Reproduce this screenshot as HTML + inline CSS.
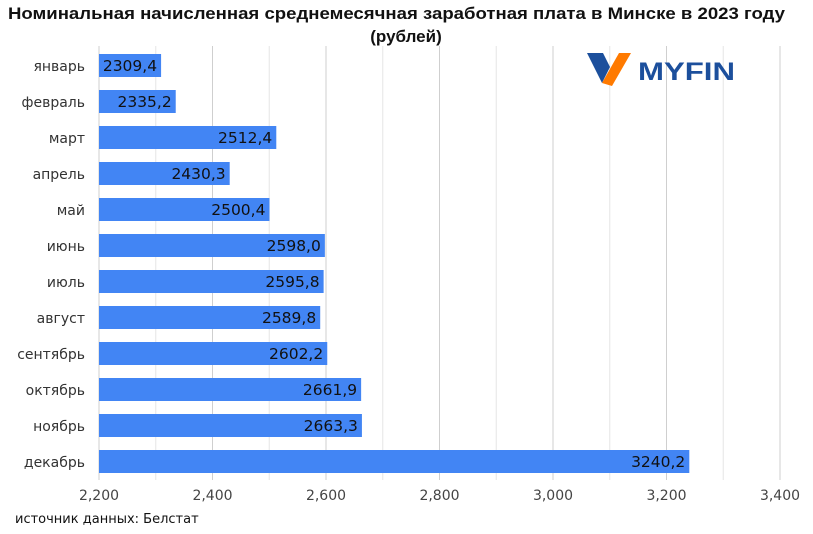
<!DOCTYPE html>
<html><head><meta charset="utf-8"><style>
body{margin:0;background:#fff;width:813px;height:529px;overflow:hidden}
text{font-family:"DejaVu Sans",sans-serif}
</style></head><body>
<svg width="813" height="529" xmlns="http://www.w3.org/2000/svg">
<text x="8" y="19" textLength="777" lengthAdjust="spacingAndGlyphs" font-size="17" font-weight="bold" fill="#111" style="font-family:'Liberation Sans',sans-serif">Номинальная начисленная среднемесячная заработная плата в Минске в 2023 году</text>
<text x="406" y="42" text-anchor="middle" font-size="17" font-weight="bold" fill="#111" style="font-family:'Liberation Sans',sans-serif">(рублей)</text>
<g id="grid"></g>
<g id="bars"></g>
<g transform="translate(587,53)">
<polygon points="0,0 16,0 23,14 15,30" fill="#1c4f9c"/>
<polygon points="15,30 32,0 44,0 25,33" fill="#ff7a00"/>
</g>
<text x="638" y="80" font-size="25" font-weight="bold" fill="#1c4f9c" textLength="97" lengthAdjust="spacingAndGlyphs" style="font-family:'Liberation Sans',sans-serif">MYFIN</text>
<text x="15" y="523" font-size="13" fill="#111">источник данных: Белстат</text>
</svg>
<script>
var x0=99,k=113.5/200,svg="http://www.w3.org/2000/svg";
var g=document.getElementById('grid'),b=document.getElementById('bars');
function el(p,t,a,txt){var e=document.createElementNS(svg,t);for(var i in a)e.setAttribute(i,a[i]);if(txt)e.textContent=txt;p.appendChild(e);return e;}
for(var v=2200;v<=3400;v+=100){var x=x0+(v-2200)*k;
el(g,'line',{x1:x,x2:x,y1:46,y2:480,stroke:(v%200==0)?'#cfcfcf':'#e6e6e6','stroke-width':1});
if(v%200==0)el(g,'text',{x:x,y:500,'text-anchor':'middle','font-size':14,fill:'#444'},(v/1000).toFixed(3).replace('.',','));}
var d=[["январь",2309.4],["февраль",2335.2],["март",2512.4],["апрель",2430.3],["май",2500.4],["июнь",2598.0],["июль",2595.8],["август",2589.8],["сентябрь",2602.2],["октябрь",2661.9],["ноябрь",2663.3],["декабрь",3240.2]];
d.forEach(function(r,i){var y=54+i*36,w=(r[1]-2200)*k;
el(b,'rect',{x:x0,y:y,width:w,height:23,fill:'#4285f4'});
el(b,'text',{x:85,y:y+17,'text-anchor':'end','font-size':14,fill:'#333'},r[0]);
el(b,'text',{x:x0+w-4,y:y+17,'text-anchor':'end','font-size':15.5,fill:'#111'},r[1].toFixed(1).replace('.',','));});
</script>
</body></html>
